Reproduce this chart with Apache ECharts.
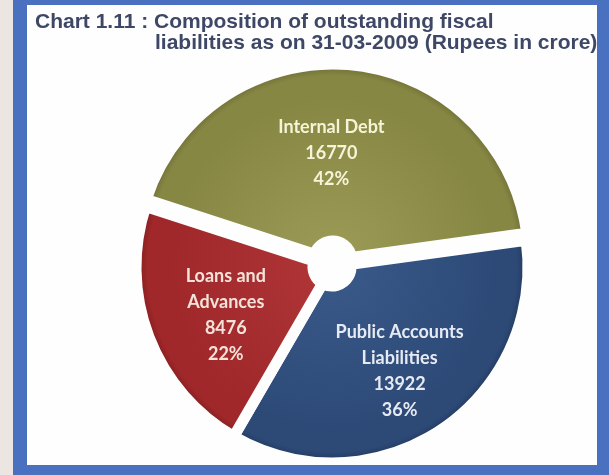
<!DOCTYPE html>
<html>
<head>
<meta charset="utf-8">
<script src="https://cdn.jsdelivr.net/npm/echarts@6/dist/echarts.min.js"></script>
<style>
  html, body { margin: 0; padding: 0; background: #ebe6e2; }
  #chart { width: 609px; height: 475px; }
</style>
</head>
<body>
<div id="chart"></div>
<script>
// Outstanding fiscal liabilities as on 31-03-2009 (Rupees in crore)
const categories = ['Internal Debt', 'Public Accounts\nLiabilities', 'Loans and\nAdvances'];
const values = [16770, 13922, 8476];
const shares = [42, 36, 22];

const titleLines = [
  'Chart 1.11 : Composition of outstanding fiscal',
  'liabilities as on 31-03-2009 (Rupees in crore)'
];

const CX = 332, CY = 267;

function shade(inner, mid, rim) {
  return {
    type: 'radial', x: CX, y: CY, r: 198, global: true,
    colorStops: [
      { offset: 0, color: inner },
      { offset: 0.82, color: mid },
      { offset: 0.93, color: mid },
      { offset: 1, color: rim }
    ]
  };
}

const sliceStyles = [
  { fill: shade('#9c9b56', '#878744', '#64632f'), text: '#f6f4d6' },
  { fill: shade('#3a5a8a', '#2d4a77', '#1e3356'), text: '#e6eaf3' },
  { fill: shade('#b03638', '#a0282a', '#78191b'), text: '#f4e3da' }
];

// the Internal Debt slice is pulled out slightly from the centre
const pulledOut = [true, false, false];

// label nudges so each block sits where it reads best inside its slice
const labelShift = [[-11, 3], [6, 12], [-3, 9]];

const titleFont = 'bold 21px "Liberation Sans", Arial, sans-serif';
const frameBlue = '#4a70c0';

const chart = echarts.init(document.getElementById('chart'), null, { renderer: 'canvas' });

chart.setOption({
  animation: false,
  backgroundColor: 'transparent',
  graphic: [
    // panel and its blue frame (frame drawn over the pie)
    { type: 'rect', z: 0, shape: { x: 27, y: 5, width: 570, height: 460 }, style: { fill: '#fefefe' } },
    { type: 'rect', z: 20, shape: { x: 13, y: 0, width: 596, height: 5 }, style: { fill: frameBlue } },
    { type: 'rect', z: 20, shape: { x: 13, y: 0, width: 14, height: 475 }, style: { fill: frameBlue } },
    { type: 'rect', z: 20, shape: { x: 597, y: 0, width: 12, height: 475 }, style: { fill: frameBlue } },
    { type: 'rect', z: 20, shape: { x: 13, y: 465, width: 596, height: 10 }, style: { fill: frameBlue } },
    {
      type: 'text', z: 10, x: 35, y: 12,
      style: { text: titleLines[0], font: titleFont, fill: '#3e4866', verticalAlign: 'top' }
    },
    {
      type: 'text', z: 10, x: 155, y: 33,
      style: { text: titleLines[1], font: titleFont, fill: '#3e4866', verticalAlign: 'top' }
    }
  ],
  series: [{
    type: 'pie',
    z: 3,
    center: [CX, CY],
    radius: [19, 196],
    startAngle: 162,
    clockwise: true,
    silent: true,
    selectedMode: 'multiple',
    selectedOffset: 7,
    itemStyle: { borderColor: '#fefefe', borderWidth: 11 },
    label: {
      position: 'inside',
      fontFamily: 'Lato, "Open Sans", sans-serif',
      fontWeight: 'bold',
      fontSize: 18,
      lineHeight: 26,
      align: 'center',
      formatter: p => p.name + '\n' + p.value + '\n' + shares[p.dataIndex] + '%'
    },
    labelLine: { show: false },
    labelLayout: p => ({ dx: labelShift[p.dataIndex][0], dy: labelShift[p.dataIndex][1] }),
    data: categories.map((name, i) => ({
      name,
      value: values[i],
      selected: pulledOut[i],
      itemStyle: { color: sliceStyles[i].fill },
      label: { color: sliceStyles[i].text }
    }))
  }]
});
</script>
</body>
</html>
